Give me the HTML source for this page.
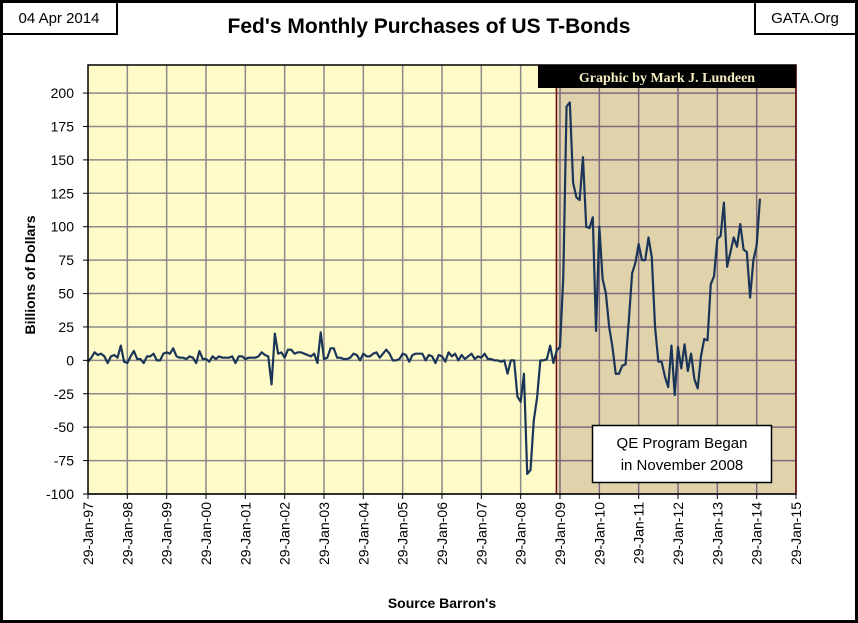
<!DOCTYPE html>
<html><head><meta charset="utf-8"><style>
body{margin:0;background:#fff;}
#wrap{position:relative;width:858px;height:623px;overflow:hidden;font-family:"Liberation Sans",sans-serif;}
</style></head><body>
<div id="wrap">
<svg id="chart" width="858" height="623" xmlns="http://www.w3.org/2000/svg">
<rect x="1.5" y="1.5" width="855" height="620" fill="#fff" stroke="#000" stroke-width="3"/>
<rect x="2" y="2" width="115" height="32" fill="#fff" stroke="#000" stroke-width="2"/>
<text x="59" y="23" text-anchor="middle" font-size="15">04 Apr 2014</text>
<text x="429" y="33" text-anchor="middle" font-size="21" font-weight="bold">Fed's Monthly Purchases of US T-Bonds</text>
<rect x="755" y="2" width="101" height="32" fill="#fff" stroke="#000" stroke-width="2"/>
<text x="805" y="23" text-anchor="middle" font-size="15">GATA.Org</text>
<g id="plot"></g>
<text transform="translate(35,275) rotate(-90)" text-anchor="middle" font-size="14" font-weight="bold">Billions  of Dollars</text>
<text x="442" y="608" text-anchor="middle" font-size="14" font-weight="bold">Source Barron's</text>
</svg>
</div>
<script>
const startYear = 1997;
const yTicks = [-100,-75,-50,-25,0,25,50,75,100,125,150,175,200];
const xTickLabels = ["29-Jan-97","29-Jan-98","29-Jan-99","29-Jan-00","29-Jan-01","29-Jan-02","29-Jan-03","29-Jan-04","29-Jan-05","29-Jan-06","29-Jan-07","29-Jan-08","29-Jan-09","29-Jan-10","29-Jan-11","29-Jan-12","29-Jan-13","29-Jan-14","29-Jan-15"];
const qeStartMonth = 142;
const preQE = [-1,2,6,4,5,3,-2,3,4,2,11,-1,
 -2,3,7,1,1,-2,3,3,5,0,0,5,
 6,5,9,3,2,2,1,3,2,-2,7,1,
 1,-1,3,1,3,2,2,2,3,-2,3,3,
 1,2,2,2,3,6,4,3,-18,20,5,6,
 2,8,8,5,6,6,5,4,3,5,-2,21,
 1,2,9,9,2,2,1,1,2,5,4,0,
 5,3,3,5,6,2,5,8,5,0,0,1,
 5,4,-1,4,5,5,5,0,4,3,-2,4,
 3,-1,6,3,5,0,4,1,3,5,1,3,
 2,5,1,1,0,0,-1,0,-10,0,0,-27,-31,-10,-85,-82,-45,-28,0,0,1,11,-2];
const postQE = [7.5,10,62,190,193,133,122,120,152,100,99,107,22,100,61,50,25,10,-10,-10,-4,-3,30,
 65,73,87,75,75,92,77,25,-1,-1,-12,-20,11,-26,10,-6,12,-8,5,-14,-21,3,16,15,57,63,91,93,
 118,70,81,92,85,102,83,81,47,75,86,121];
const values = preQE.concat(postQE);

const L=88,R=796,T=65,B=494,yMin=-100,yMax=221,months=216;
const xS=m=>L+(R-L)*m/months;
const yS=v=>B-(B-T)*(v-yMin)/(yMax-yMin);
const NS="http://www.w3.org/2000/svg";
const g=document.getElementById('plot');
function mk(tag,attrs){const e=document.createElementNS(NS,tag);for(const k in attrs)e.setAttribute(k,attrs[k]);g.appendChild(e);return e;}
const qx=xS(qeStartMonth+0.9);
let e=mk('rect',{x:L,y:T,width:qx-L,height:B-T,fill:'#fffbc8'});


e=mk('rect',{x:qx,y:T,width:R-qx,height:B-T,fill:'#e0d3ab'});


yTicks.forEach(v=>{
 let l=mk('line',{x1:L,x2:qx,y1:yS(v),y2:yS(v),stroke:'#8a8a8a','stroke-width':1.5});
 
 
 l=mk('line',{x1:qx,x2:R,y1:yS(v),y2:yS(v),stroke:'#7d6a7c','stroke-width':1.5});
 
 
 const t=mk('text',{x:L-14,y:yS(v)+5,'text-anchor':'end','font-size':14});
 t.textContent=v;
 
 
 const tk=mk('line',{x1:L-5,x2:L,y1:yS(v),y2:yS(v),stroke:'#000'});
 
 
});
xTickLabels.forEach((lab,i)=>{
 const x=xS(i*12);
 if(i>0&&i<xTickLabels.length-1){
  const l=mk('line',{x1:x,x2:x,y1:T,y2:B,stroke:x<qx?'#8a8a8a':'#7d6a7c','stroke-width':1.5});
  
  
 }
 const tk=mk('line',{x1:x,x2:x,y1:B,y2:B+5,stroke:'#000'});
 
 
 const t=mk('text',{transform:`translate(${x+5},${B+8}) rotate(-90)`,'text-anchor':'end','font-size':14});
 t.textContent=lab;
 
 
});
e=mk('line',{x1:qx,x2:qx,y1:T,y2:B,stroke:'#6b1010','stroke-width':1.5});


e=mk('polyline',{points:values.map((v,i)=>xS(i)+','+yS(v)).join(' '),fill:'none',stroke:'#1a3558','stroke-width':2.2,'stroke-linejoin':'round'});


e=mk('rect',{x:L,y:T,width:R-L,height:B-T,fill:'none',stroke:'#000','stroke-width':1.5});


e=mk('line',{x1:R,x2:R,y1:T,y2:B,stroke:'#6b1010','stroke-width':1.5});


e=mk('rect',{x:538,y:T,width:R-538,height:23,fill:'#000'});


e=mk('text',{x:667,y:T+17,'text-anchor':'middle','font-size':14,'font-weight':'bold',fill:'#f3ecc0','font-family':'Liberation Serif, serif'});
e.textContent='Graphic by Mark J. Lundeen';


e=mk('rect',{x:592.5,y:425.5,width:179,height:57,fill:'#fff',stroke:'#000','stroke-width':1.5});


e=mk('text',{x:682,y:448,'text-anchor':'middle','font-size':15});
e.textContent='QE Program Began';


e=mk('text',{x:682,y:470,'text-anchor':'middle','font-size':15});
e.textContent='in November 2008';


</script>
</body></html>
